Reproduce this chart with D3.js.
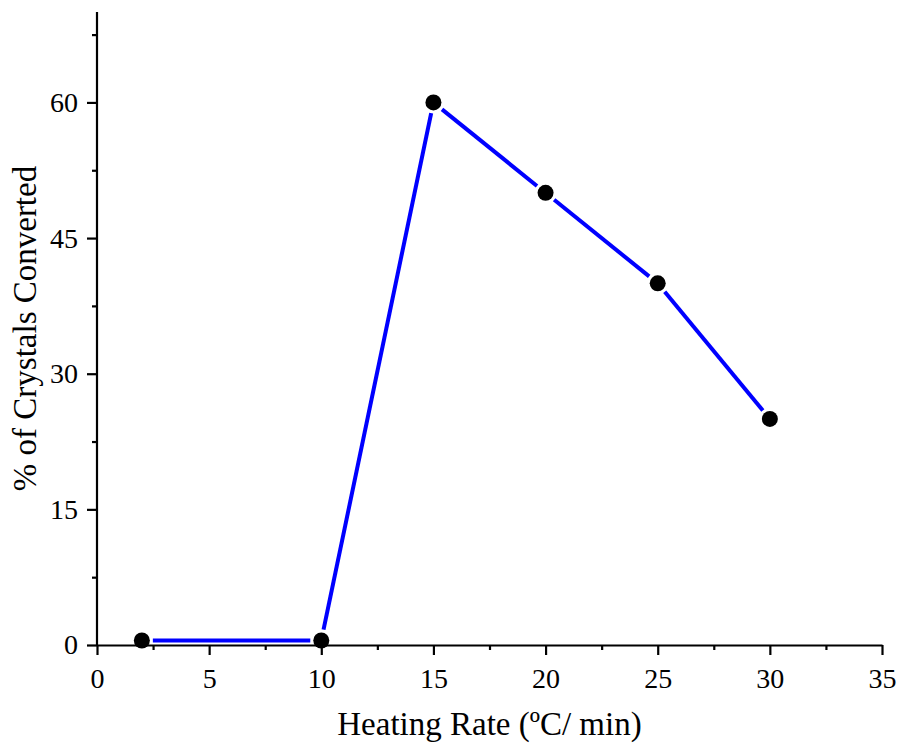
<!DOCTYPE html>
<html>
<head>
<meta charset="utf-8">
<script src="https://cdn.jsdelivr.net/npm/d3@7/dist/d3.min.js"></script>
<style>
body { margin: 0; background: #fff; }
text { font-family: "Liberation Serif", "Times New Roman", serif; }
</style>
</head>
<body>
<div id="chart-area"></div>
<script>
// data
var rates = [2, 10, 15, 20, 25, 30];
var converted = [0.5, 0.5, 60, 50, 40, 25];
var xTicks = [0, 5, 10, 15, 20, 25, 30, 35];
var yTicks = [0, 15, 30, 45, 60];

var width = 900, height = 746;
var margin = {top: 12, right: 18, bottom: 101, left: 97};

var svg = d3.select("#chart-area")
    .append("svg")
    .attr("width", width)
    .attr("height", height);

var x = d3.scaleLinear().domain([0, 35]).range([margin.left, width - margin.right]);
var y = d3.scaleLinear().domain([0, 70]).range([height - margin.bottom, margin.top]);

// minor ticks
var xMinor = d3.range(2.5, 35, 5);
var yMinor = d3.range(7.5, 70, 15);

var xAxis = svg.append("g")
    .attr("transform", "translate(0," + y(0) + ")")
    .call(d3.axisBottom(x).tickValues(xTicks).tickSize(10).tickSizeOuter(0).tickPadding(13));
svg.append("g")
    .attr("transform", "translate(0," + y(0) + ")")
    .call(d3.axisBottom(x).tickValues(xMinor).tickSize(5).tickFormat("").tickSizeOuter(0))
    .select(".domain").remove();

var yAxis = svg.append("g")
    .attr("transform", "translate(" + x(0) + ",0)")
    .call(d3.axisLeft(y).tickValues(yTicks).tickSize(10).tickSizeOuter(0).tickPadding(9));
svg.append("g")
    .attr("transform", "translate(" + x(0) + ",0)")
    .call(d3.axisLeft(y).tickValues(yMinor).tickSize(5).tickFormat("").tickSizeOuter(0))
    .select(".domain").remove();

// y axis line extends to top
yAxis.select(".domain").attr("d", "M0," + y(0) + "V" + y(70));

svg.selectAll(".domain, .tick line")
    .attr("stroke", "black")
    .attr("stroke-width", 2.2);
svg.selectAll(".tick text")
    .style("font-size", "28px")
    .style("font-family", "'Liberation Serif', serif")
    .attr("fill", "black");

// line segments with gaps at markers
var pts = rates.map(function(d, i) { return [x(d), y(converted[i])]; });
var gap = 11;
var segs = [];
for (var i = 0; i < pts.length - 1; i++) {
    var a = pts[i], b = pts[i + 1];
    var dx = b[0] - a[0], dy = b[1] - a[1];
    var len = Math.sqrt(dx * dx + dy * dy);
    var ux = dx / len, uy = dy / len;
    segs.push([a[0] + ux * gap, a[1] + uy * gap, b[0] - ux * gap, b[1] - uy * gap]);
}
svg.selectAll(".seg").data(segs).enter().append("line")
    .attr("class", "seg")
    .attr("x1", function(d) { return d[0]; })
    .attr("y1", function(d) { return d[1]; })
    .attr("x2", function(d) { return d[2]; })
    .attr("y2", function(d) { return d[3]; })
    .attr("stroke", "#0000ff")
    .attr("stroke-width", 4);

svg.selectAll(".dot").data(rates).enter().append("circle")
    .attr("class", "dot")
    .attr("cx", function(d) { return x(d); })
    .attr("cy", function(d, i) { return y(converted[i]); })
    .attr("r", 8)
    .attr("fill", "black");

// labels
svg.append("text")
    .attr("x", (x(0) + x(35)) / 2)
    .attr("y", 735)
    .attr("text-anchor", "middle")
    .style("font-size", "33px")
    .text("Heating Rate (ºC/ min)");

svg.append("text")
    .attr("transform", "translate(36," + ((y(0) + y(70)) / 2) + ") rotate(-90)")
    .attr("text-anchor", "middle")
    .style("font-size", "33px")
    .text("% of Crystals Converted");
</script>
</body>
</html>
